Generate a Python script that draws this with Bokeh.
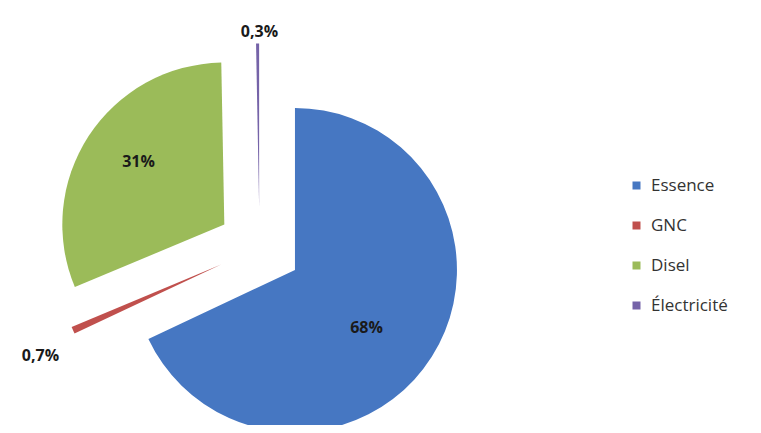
import math
from bokeh.plotting import figure
from bokeh.models import ColumnDataSource, Range1d, Legend, LegendItem, Label
from bokeh.embed import file_html
from bokeh.resources import INLINE

# ---- data ----
categories = ["Essence", "GNC", "Disel", "Électricité"]
values = [68.0, 0.7, 31.0, 0.3]
labels = ["68%", "0,7%", "31%", "0,3%"]
colors = ["#4677C2", "#C0504D", "#9BBB59", "#7563A8"]

# ---- layout (pixel space: x = image x, y = 433 - image y) ----
W, H = 745, 425
cx, cy = 259.0, 433 - 247.0
R = 162.0
EXPLODE = 42.0
label_pos = [(366, 326), (40, 354), (138, 160), (259, 30)]  # image coords

total = sum(values)
xs, ys, a_start, a_end = [], [], [], []
cum = 0.0
for v in values:
    s = cum / total
    e = (cum + v) / total
    cum += v
    a1 = math.pi / 2 - 2 * math.pi * s   # start (clockwise from top)
    a2 = math.pi / 2 - 2 * math.pi * e
    mid = (a1 + a2) / 2
    xs.append(cx + EXPLODE * math.cos(mid))
    ys.append(cy + EXPLODE * math.sin(mid))
    a_start.append(a2)
    a_end.append(a1)

src = ColumnDataSource(dict(x=xs, y=ys, start=a_start, end=a_end,
                            color=colors, cat=categories))

p = figure(width=W, height=H, output_backend="svg", toolbar_location=None,
           x_range=Range1d(0, W), y_range=Range1d(433 - H, 433),
           min_border=0)
p.xaxis.visible = False
p.yaxis.visible = False
p.xgrid.visible = False
p.ygrid.visible = False
p.outline_line_color = None
p.background_fill_color = "white"
p.border_fill_color = "white"

r = p.wedge(x="x", y="y", radius=R, start_angle="start", end_angle="end",
            direction="anticlock", fill_color="color", line_color=None,
            source=src)

for lab, (lx, ly) in zip(labels, label_pos):
    p.add_layout(Label(x=lx, y=433 - ly, text=lab, text_align="center",
                       text_baseline="middle", text_font="Open Sans",
                       text_font_size="16px", text_font_style="bold",
                       text_color="#1a1a1a"))

items = [LegendItem(label=c, renderers=[r], index=i) for i, c in enumerate(categories)]
legend = Legend(items=items, location=(631, 109), orientation="vertical",
                padding=0, margin=0, spacing=17, label_height=20,
                glyph_height=10, glyph_width=10, label_standoff=10,
                label_text_font="Open Sans", label_text_font_size="17px",
                label_text_color="#333333", border_line_color=None,
                background_fill_alpha=0)
p.add_layout(legend)

open("out.html", "w").write(file_html(p, INLINE))
